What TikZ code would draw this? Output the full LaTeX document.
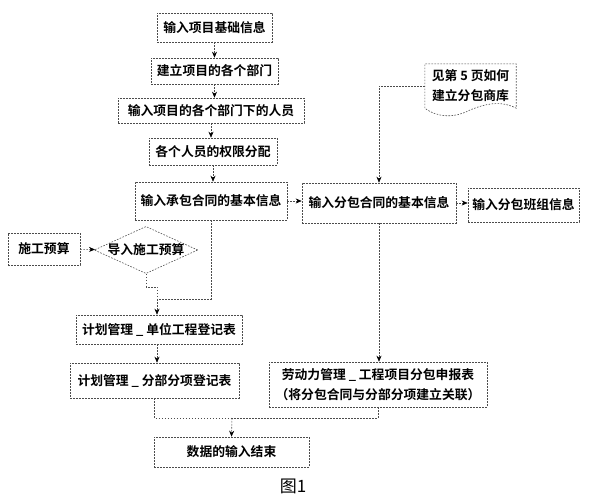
\documentclass[tikz,border=0pt]{standalone}
\usepackage{fontspec}
\newfontfamily\hei{Noto Sans CJK SC}[BoldFont={Noto Sans CJK SC Bold}]
\usetikzlibrary{positioning, arrows.meta, shapes.geometric}
\tikzset{
  dotline/.style={draw=black!70, line width=0.6pt, dash pattern=on 1.6pt off 1.4pt},
  flow/.style={dotline, -{Stealth[length=6pt, width=5pt, black]}},
  boxtext/.style={font=\hei\bfseries\fontsize{12.8}{20}\selectfont, align=center},
  box/.style={dotline, boxtext, inner sep=0pt},
}

\begin{document}
\begin{tikzpicture}[x=1pt, y=-1pt]
    \useasboundingbox (0,0) rectangle (590,498);

    % main column
    \node[box, minimum width=115pt, minimum height=29pt] (info) at (214.5,27.5) {输入项目基础信息};
    \node[box, minimum width=127pt, minimum height=26pt] (dept) at (214.5,71) {建立项目的各个部门};
    \node[box, minimum width=186pt, minimum height=25pt] (staff) at (211,110.5) {输入项目的各个部门下的人员};
    \node[box, minimum width=128pt, minimum height=27pt] (perm) at (213,151.5) {各个人员的权限分配};
    \node[box, minimum width=152pt, minimum height=38pt] (mainc) at (211,201) {输入承包合同的基本信息};

    % subcontract branch
    \node[box, minimum width=154pt, minimum height=40pt] (subc) at (379,203) {输入分包合同的基本信息};
    \node[box, minimum width=111pt, minimum height=34pt] (team) at (523.5,205) {输入分包班组信息};
    \node[boxtext, inner sep=0pt, minimum width=91pt, minimum height=44pt] (note) at (470.5,86) {见第 5 页如何\\建立分包商库};
    \draw[dotline] (note.south west) -- (note.north west) -- (note.north east) -- (note.south east)
        .. controls (500,100) and (485,104) .. (470,110)
        .. controls (455,118) and (438,118) .. (note.south west);

    % budget and plan
    \node[box, minimum width=72pt, minimum height=32pt] (budget) at (44,249) {施工预算};
    \node[dotline, boxtext, diamond, aspect=2.2, inner sep=0pt, minimum width=102pt, minimum height=46pt] (import) at (146,250) {导入施工预算};
    \node[box, minimum width=166pt, minimum height=29pt] (unit) at (159,329.5) {计划管理 \_ 单位工程登记表};
    \node[box, minimum width=169pt, minimum height=35pt] (item) at (154.5,380.5) {计划管理 \_ 分部分项登记表};
    \node[box, minimum width=218pt, minimum height=45pt] (labor) at (378,384.5) {劳动力管理 \_ 工程项目分包申报表\\（将分包合同与分部分项建立关联）};
    \node[box, minimum width=155pt, minimum height=30pt] (finish) at (231.5,452) {数据的输入结束};
    \node[font=\hei\fontsize{17}{20}\selectfont] (fig) at (293,486) {图1};

    \coordinate (j) at (157,299);
    \coordinate (m) at (232,418);

    % connectors
    \draw[flow] (info.south) -- (info.south |- dept.north);
    \draw[flow] (dept.south) -- (dept.south |- staff.north);
    \draw[flow] (staff.south) -- (staff.south |- perm.north);
    \draw[flow] (perm.south) -- (perm.south |- mainc.north);
    \draw[flow] (mainc.east) -- (subc.west |- mainc.east);
    \draw[flow] (subc.east) -- (team.west |- subc.east);
    \draw[flow] (note.west) -| (subc.north);
    \draw[flow] (budget) -- (import);
    \draw[dotline] (import.south) -- ++(0,13) -| (j);
    \draw[dotline] (mainc.south) |- (j);
    \draw[flow] (j) -- (j |- unit.north);
    \draw[flow] (unit.south -| j) -- (item.north -| j);
    \draw[flow] (subc.south) -- (subc.south |- labor.north);
    \draw[dotline] (item.south) |- (m);
    \draw[dotline] (labor.south) |- (m);
    \draw[flow] (m) -- (finish.north);
\end{tikzpicture}
\end{document}
